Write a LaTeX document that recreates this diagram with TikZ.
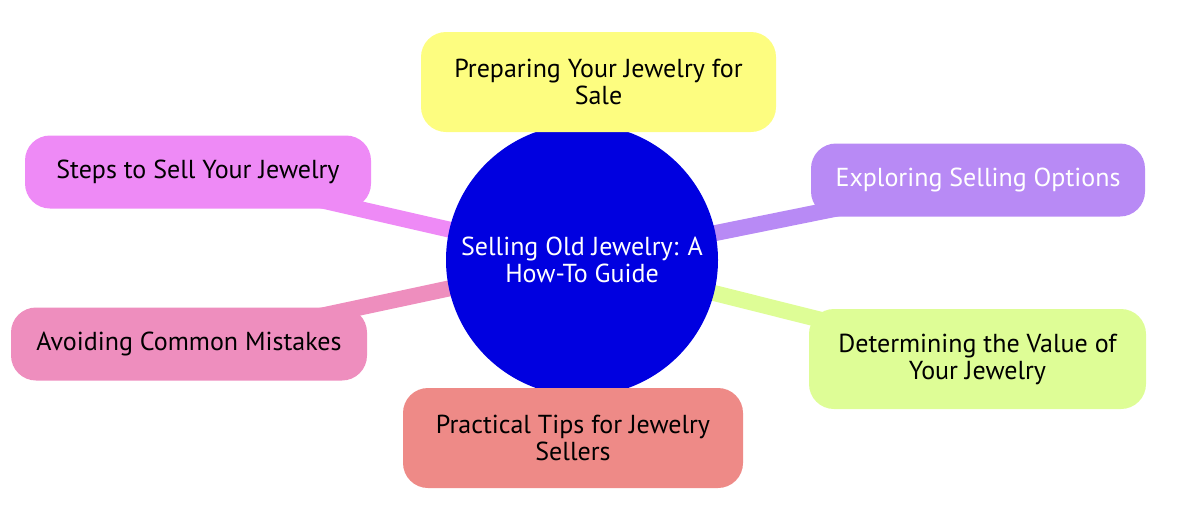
\documentclass[tikz,border=0pt]{standalone}
\usepackage{fontspec}
\setmainfont{PT Sans}
\usetikzlibrary{backgrounds}
\definecolor{rootblue}{HTML}{0000E0}
\definecolor{cyellow}{HTML}{FDFD80}
\definecolor{cpink}{HTML}{EE8AF6}
\definecolor{crose}{HTML}{EE8EBE}
\definecolor{cpurple}{HTML}{B88AF5}
\definecolor{cgreen}{HTML}{DEFD96}
\definecolor{cred}{HTML}{EE8A87}
\begin{document}
\begin{tikzpicture}[x=1pt,y=-1pt,
  box/.style={shape=rectangle, rounded corners=25pt, inner sep=0pt, align=center,
    font=\fontsize{26}{27}\selectfont, text=black},
  link/.style={line width=16pt}]
\useasboundingbox (0,0) rectangle (1200,512);
\node[circle, fill=rootblue, minimum size=272pt, inner sep=0pt, align=center, text=white,
  font=\fontsize{26}{27}\selectfont] (root) at (582,260) {Selling Old Jewelry: A\\How-To Guide};
\node[box, fill=cyellow, minimum width=355pt, minimum height=100pt] (prep) at (598.5,82) {Preparing Your Jewelry for\\Sale};
\node[box, fill=cpink, minimum width=346pt, minimum height=73pt] (steps) at (198,172) {Steps to Sell Your Jewelry};
\node[box, fill=crose, minimum width=356pt, minimum height=73pt] (avoid) at (189,344) {Avoiding Common Mistakes};
\node[box, fill=cpurple, minimum width=334pt, minimum height=73pt, text=white] (explore) at (978,180) {Exploring Selling Options};
\node[box, fill=cgreen, minimum width=337pt, minimum height=100pt] (value) at (977.5,359) {Determining the Value of\\Your Jewelry};
\node[box, fill=cred, minimum width=340pt, minimum height=100pt] (tips) at (573,438) {Practical Tips for Jewelry\\Sellers};
\begin{scope}[on background layer]
\draw[link, draw=cpink] (root.center) -- (steps.center);
\draw[link, draw=crose] (root.center) -- (avoid.center);
\draw[link, draw=cpurple] (root.center) -- (explore.center);
\draw[link, draw=cgreen] (root.center) -- (value.center);
\draw[link, draw=cyellow] (root.center) -- (prep.center);
\draw[link, draw=cred] (root.center) -- (tips.center);
\end{scope}
\end{tikzpicture}
\end{document}
